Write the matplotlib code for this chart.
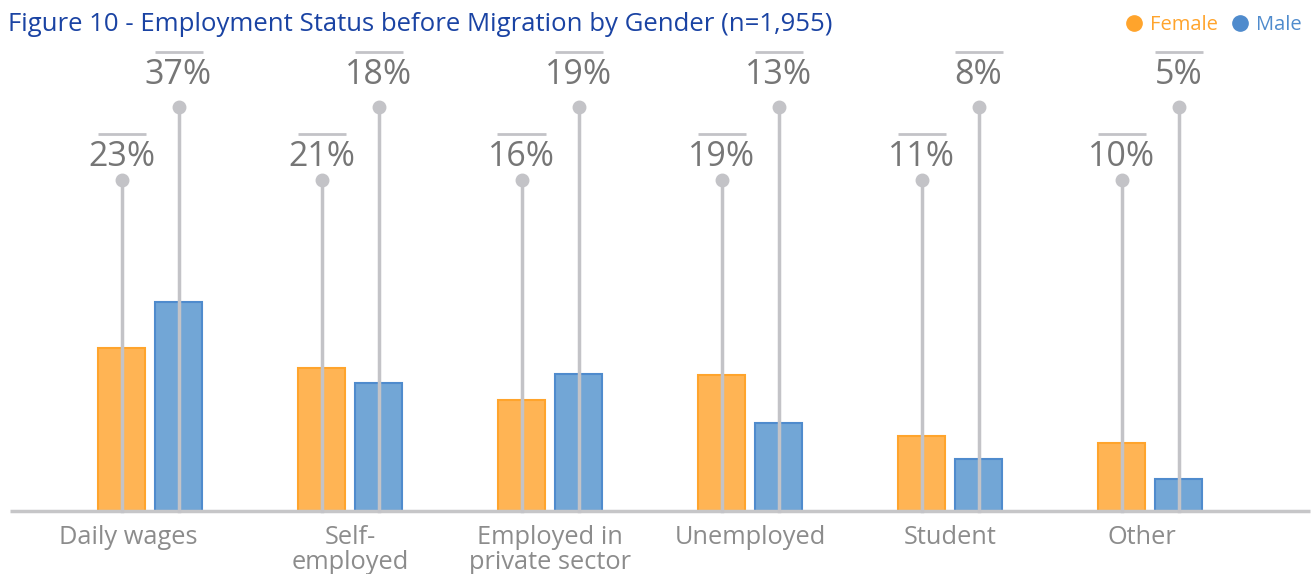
import matplotlib.pyplot as plt
from matplotlib.lines import Line2D

# Data
categories = ['Daily wages', 'Self-\nemployed', 'Employed in\nprivate sector',
              'Unemployed', 'Student', 'Other']
female_labels = [23, 21, 16, 19, 11, 10]
male_labels = [37, 18, 19, 13, 8, 5]
# bar heights as drawn in the picture
female_bars = [23.1, 20.3, 15.7, 19.3, 10.6, 9.6]
male_bars = [29.6, 18.2, 19.4, 12.5, 7.4, 4.5]

FEMALE_FILL, FEMALE_EDGE = '#ffb454', '#ffa42c'
MALE_FILL, MALE_EDGE = '#72a6d6', '#4f8bcd'
STEM = '#c3c3c7'
LABEL_GREY = '#767676'
CAT_GREY = '#8c8c8c'

plt.rcParams['font.family'] = ['Open Sans', 'DejaVu Sans']

fig = plt.figure(figsize=(13.12, 5.74), dpi=100)
ax = fig.add_axes([0, 0, 1, 1])
ax.set_xlim(-0.75, 5.81)
ax.set_ylim(-8.94, 72.48)
ax.axis('off')

xs = list(range(len(categories)))
offset = 0.1425
width = 0.235
xf = [x - offset for x in xs]
xm = [x + offset for x in xs]

ax.bar(xf, female_bars, width=width, color=FEMALE_FILL, edgecolor=FEMALE_EDGE,
       linewidth=1.5, zorder=2)
ax.bar(xm, male_bars, width=width, color=MALE_FILL, edgecolor=MALE_EDGE,
       linewidth=1.5, zorder=2)

# baseline
ax.plot([-0.7, 5.8], [0, 0], color='#c6c6c8', lw=2.5, zorder=3, solid_capstyle='butt')

# lollipop stems with labels
for xpos, labels, top, text_y, bar_y in [(xf, female_labels, 47.0, 50.2, 53.5),
                                         (xm, male_labels, 57.3, 61.8, 65.1)]:
    for x, v in zip(xpos, labels):
        ax.plot([x, x], [0, top], color=STEM, lw=2.5, zorder=4)
        ax.plot(x, top, 'o', color=STEM, markersize=9, zorder=5)
        ax.text(x, text_y, f'{v}%', ha='center', va='center', fontsize=24.5,
                color=LABEL_GREY, zorder=5)
        ax.plot([x - 0.12, x + 0.12], [bar_y, bar_y], color=STEM, lw=2,
                zorder=5, solid_capstyle='butt')

# category labels (Excel nudges the first and last ones inward a bit)
label_nudge = [-0.11, 0, 0, 0, 0, -0.04]
for x, c, dx in zip(xs, categories, label_nudge):
    ax.text(x + dx, -1.95, c, ha='center', va='top', fontsize=18.3, color=CAT_GREY,
            linespacing=1.0)

fig.text(0.006, 0.958, 'Figure 10 - Employment Status before Migration by Gender (n=1,955)',
         ha='left', va='center', fontsize=18.5, color='#1a43a3')

handles = [Line2D([], [], marker='o', ls='', color='#ffa42c', markersize=11),
           Line2D([], [], marker='o', ls='', color='#4f8bcd', markersize=11)]
leg = fig.legend(handles, ['Female', 'Male'], loc='upper right', ncol=2,
                 bbox_to_anchor=(1.006, 1.005), frameon=False, fontsize=14.5,
                 handletextpad=0.2, columnspacing=0.5, handlelength=1.2)
for t, col in zip(leg.get_texts(), ['#ffa42c', '#4f8bcd']):
    t.set_color(col)

fig.savefig('out.png', dpi=100)
